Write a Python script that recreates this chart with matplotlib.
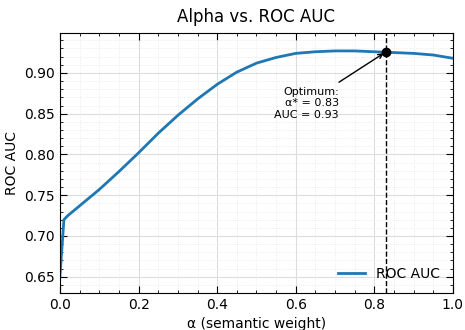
import matplotlib
matplotlib.use("Agg")
import matplotlib.pyplot as plt
from matplotlib.ticker import AutoMinorLocator

# values
alpha = [0.0, 0.01, 0.02, 0.05, 0.10, 0.15, 0.20, 0.25, 0.30, 0.35, 0.40, 0.45,
         0.50, 0.55, 0.60, 0.65, 0.70, 0.75, 0.80, 0.85, 0.90, 0.95, 1.0]
auc = [0.651, 0.720, 0.725, 0.737, 0.757, 0.779, 0.802, 0.826, 0.848, 0.868, 0.886, 0.901,
       0.912, 0.919, 0.924, 0.926, 0.927, 0.927, 0.926, 0.925, 0.924, 0.922, 0.918]
opt_alpha = 0.83
opt_auc = 0.926

fig, ax = plt.subplots(figsize=(4.65, 3.3), dpi=100)
fig.subplots_adjust(left=0.129, right=0.974, top=0.9, bottom=0.112)

ax.plot(alpha, auc, color="tab:blue", lw=2, label="ROC AUC")
ax.axvline(opt_alpha, color="black", ls="--", lw=1)
ax.plot([opt_alpha], [opt_auc], "o", color="black", ms=6, zorder=5)
ax.annotate("Optimum:\nα* = {:.2f}\nAUC = {:.2f}".format(opt_alpha, opt_auc),
            xy=(opt_alpha, opt_auc), xytext=(0.71, 0.863),
            ha="right", va="center", fontsize=8, linespacing=1.2,
            multialignment="right",
            arrowprops=dict(arrowstyle="->", color="black", lw=1))

ax.set_xlim(0, 1)
ax.set_ylim(0.630, 0.949)
ax.xaxis.set_minor_locator(AutoMinorLocator())
ax.yaxis.set_minor_locator(AutoMinorLocator())
ax.tick_params(which="both", direction="in", top=True, right=True, labelsize=10)
ax.tick_params(which="major", length=5)
ax.tick_params(which="minor", length=2.5)
ax.grid(which="major", color="#dddddd", lw=0.8)
ax.grid(which="minor", color="#e6e6e6", lw=0.6, ls=":")
ax.set_axisbelow(True)

ax.set_xlabel("α (semantic weight)", fontsize=10)
ax.set_ylabel("ROC AUC", fontsize=10)
ax.set_title("Alpha vs. ROC AUC", fontsize=12, pad=8)
ax.legend(loc="lower right", frameon=False, fontsize=10)

fig.savefig("out.png", dpi=100)
